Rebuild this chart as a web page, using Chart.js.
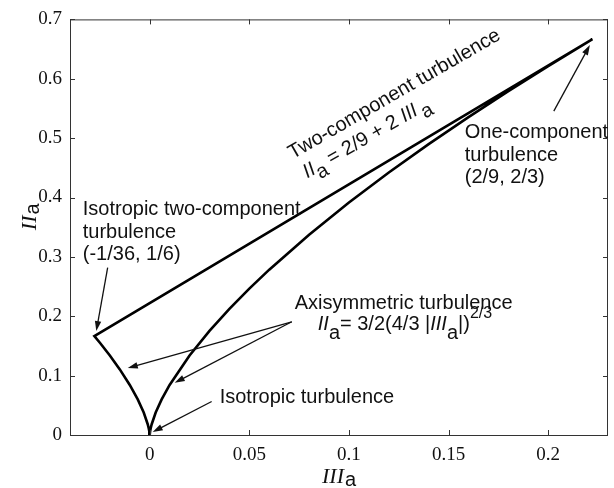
<!DOCTYPE html>
<html>
<head>
<meta charset="utf-8">
<script src="https://cdn.jsdelivr.net/npm/chart.js@4.4.1/dist/chart.umd.min.js"></script>
<style>
  body { margin: 0; background: #fff; }
</style>
</head>
<body>
<canvas id="myChart" width="614" height="488"></canvas>
<script>
// anisotropy invariant map: IIIa on x, IIa on y
var twoCompX = [-0.027778, 0.222222];
var twoCompY = [0.166667, 0.666667];

var axiLeftX = [0, -0.0002, -0.0005, -0.001, -0.003, -0.006, -0.01, -0.015, -0.02, -0.025, -0.027778];
var axiLeftY = [0, 0.00622, 0.01145, 0.01817, 0.0378, 0.06, 0.08434, 0.11052, 0.13388, 0.15536, 0.166667];

var axiRightX = [0.222222, 0.2, 0.18, 0.16, 0.14, 0.12, 0.1, 0.08, 0.06, 0.05, 0.04, 0.03, 0.02, 0.01, 0.006, 0.003, 0.001, 0.0005, 0.0002, 0];
var axiRightY = [0.666667, 0.62145, 0.57929, 0.53555, 0.48999, 0.44208, 0.39148, 0.33737, 0.27849, 0.24662, 0.21249, 0.17544, 0.13388, 0.08434, 0.06, 0.0378, 0.01817, 0.01145, 0.00622, 0];

var xTicks = [0, 0.05, 0.1, 0.15, 0.2];
var yTicks = [0, 0.1, 0.2, 0.3, 0.4, 0.5, 0.6, 0.7];

var SANS = '"Liberation Sans", Arial, sans-serif';
var SERIF = '"Liberation Serif", "Times New Roman", serif';
var f20 = '20px ' + SANS;
var f20i = 'italic 20px ' + SANS;

function pts(xs, ys) {
  var out = [];
  for (let i = 0; i < xs.length; i++) out.push({ x: xs[i], y: ys[i] });
  return out;
}

// one path round the triangle: left branch up, two-component line, right branch down
var boundary = pts(axiLeftX, axiLeftY).concat(pts(twoCompX, twoCompY), pts(axiRightX, axiRightY));

function rich(ctx, x, y, parts) {
  parts.forEach(function (p) {
    ctx.font = p.font || f20;
    ctx.fillText(p.t, x, y + (p.dy || 0));
    x += ctx.measureText(p.t).width + (p.gap || 0);
  });
}

function arrow(ctx, x0, y0, x1, y1) {
  var a = Math.atan2(y1 - y0, x1 - x0), L = 10, W = 3.2;
  var c = Math.cos(a), s = Math.sin(a);
  ctx.beginPath();
  ctx.moveTo(x0, y0);
  ctx.lineTo(x1 - L * 0.8 * c, y1 - L * 0.8 * s);
  ctx.stroke();
  ctx.beginPath();
  ctx.moveTo(x1, y1);
  ctx.lineTo(x1 - L * c + W * s, y1 - L * s - W * c);
  ctx.lineTo(x1 - L * c - W * s, y1 - L * s + W * c);
  ctx.closePath();
  ctx.fill();
}

var frame = {
  id: 'frame',
  afterDraw: function (chart) {
    var ctx = chart.ctx, a = chart.chartArea;
    var xs = chart.scales.x, ys = chart.scales.y;
    function px(v) { return xs.getPixelForValue(v); }
    function py(v) { return ys.getPixelForValue(v); }

    ctx.save();
    // box with inward ticks
    ctx.strokeStyle = '#333';
    ctx.lineWidth = 1;
    ctx.strokeRect(a.left + 0.5, a.top + 0.5, a.right - a.left - 1, a.bottom - a.top);
    ctx.beginPath();
    xTicks.forEach(function (v) {
      var x = Math.round(px(v)) + 0.5;
      ctx.moveTo(x, a.bottom); ctx.lineTo(x, a.bottom - 5);
      ctx.moveTo(x, a.top); ctx.lineTo(x, a.top + 5);
    });
    yTicks.forEach(function (v) {
      var y = Math.round(py(v)) + 0.5;
      ctx.moveTo(a.left, y); ctx.lineTo(a.left + 5, y);
      ctx.moveTo(a.right, y); ctx.lineTo(a.right - 5, y);
    });
    ctx.stroke();

    // axis titles
    ctx.fillStyle = '#111';
    ctx.textBaseline = 'alphabetic';
    ctx.textAlign = 'left';
    var cx = (a.left + a.right) / 2;
    rich(ctx, cx - 17, a.bottom + 48, [
      { t: 'III', font: 'italic 22px ' + SERIF, gap: 1 },
      { t: 'a', font: f20, dy: 3 }
    ]);
    ctx.save();
    ctx.translate(a.left - 34, (a.top + a.bottom) / 2 + 3);
    ctx.rotate(-Math.PI / 2);
    rich(ctx, 0, 0, [
      { t: 'II', font: 'italic 22px ' + SERIF, gap: 1 },
      { t: 'a', font: f20, dy: 3 }
    ]);
    ctx.restore();

    // annotations
    ctx.fillStyle = '#111';
    ctx.strokeStyle = '#111';
    ctx.lineWidth = 1.3;
    ctx.font = f20;

    var x = px(-0.0336), y = py(0.3698);
    ctx.fillText('Isotropic two-component', x, y);
    ctx.fillText('turbulence', x, y + 23);
    ctx.fillText('(-1/36, 1/6)', x, y + 45);
    arrow(ctx, px(-0.0211), py(0.2819), px(-0.0268), py(0.175));

    ctx.save();
    ctx.translate(px(0.0718), py(0.4643));
    ctx.rotate(-30 * Math.PI / 180);
    ctx.font = f20;
    ctx.fillText('Two-component turbulence', 0, 0);
    rich(ctx, 3, 24, [
      { t: 'II', font: f20i },
      { t: 'a', dy: 7 },
      { t: ' = 2/9 + 2 ' },
      { t: 'III', font: f20i, gap: 3 },
      { t: 'a', dy: 7 }
    ]);
    ctx.restore();

    x = px(0.1581); y = py(0.5008);
    ctx.font = f20;
    ctx.fillText('One-component', x, y);
    ctx.fillText('turbulence', x, y + 23);
    ctx.fillText('(2/9, 2/3)', x, y + 45);
    arrow(ctx, px(0.2028), py(0.5456), px(0.2209), py(0.6567));

    x = px(0.0728); y = py(0.2123);
    ctx.font = f20;
    ctx.fillText('Axisymmetric turbulence', x, y);
    rich(ctx, x + 23, y + 21, [
      { t: 'II', font: f20i },
      { t: 'a', dy: 9 },
      { t: '= 3/2(4/3 |' },
      { t: 'III', font: f20i },
      { t: 'a', dy: 9 },
      { t: '|)' },
      { t: '2/3', font: '16px ' + SANS, dy: -12 }
    ]);
    arrow(ctx, px(0.0713), py(0.1907), px(-0.0110), py(0.1128));
    arrow(ctx, px(0.0713), py(0.1907), px(0.01255), py(0.0879));

    ctx.font = f20;
    ctx.fillText('Isotropic turbulence', px(0.0351), py(0.0547));
    arrow(ctx, px(0.0311), py(0.0564), px(0.0015), py(0.005));

    ctx.restore();
  }
};

new Chart(document.getElementById('myChart'), {
  type: 'scatter',
  data: {
    datasets: [{
      label: 'boundary',
      data: boundary,
      showLine: true,
      borderColor: '#000',
      borderWidth: 2.6,
      borderJoinStyle: 'miter',
      pointRadius: 0,
      tension: 0
    }]
  },
  options: {
    responsive: false,
    animation: false,
    devicePixelRatio: 1,
    layout: { padding: { left: 0, right: 6, top: 13, bottom: 0 } },
    plugins: { legend: { display: false }, tooltip: { enabled: false } },
    scales: {
      x: {
        type: 'linear',
        min: -0.04,
        max: 0.23,
        afterBuildTicks: function (scale) {
          scale.ticks = xTicks.map(function (v) { return { value: v }; });
        },
        afterFit: function (scale) { scale.height = 53; },
        grid: { display: false, drawTicks: false },
        border: { display: false },
        ticks: {
          padding: 9,
          color: '#111',
          font: { family: SERIF, size: 19 },
          callback: function (v) { return String(+v.toFixed(2)); }
        }
      },
      y: {
        type: 'linear',
        min: 0,
        max: 0.7,
        afterBuildTicks: function (scale) {
          scale.ticks = yTicks.map(function (v) { return { value: v }; });
        },
        afterFit: function (scale) { scale.width = 70; },
        grid: { display: false, drawTicks: false },
        border: { display: false },
        ticks: {
          padding: 8,
          color: '#111',
          font: { family: SERIF, size: 19 },
          callback: function (v) { return String(+v.toFixed(2)); }
        }
      }
    }
  },
  plugins: [frame]
});
</script>
</body>
</html>
